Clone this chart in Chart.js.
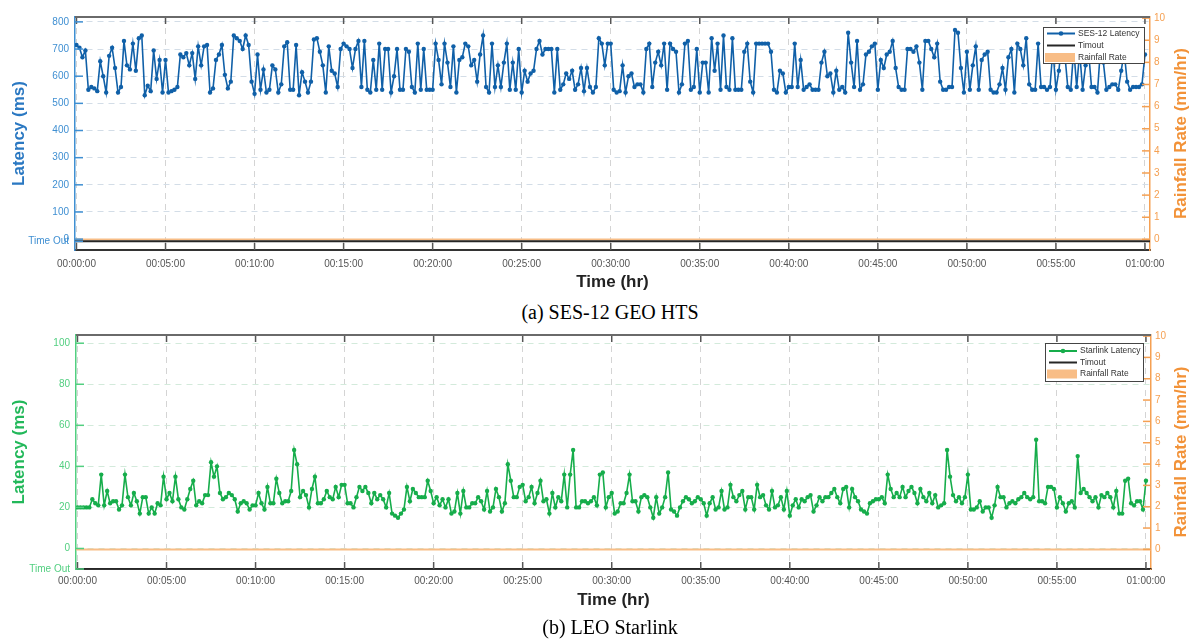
<!DOCTYPE html>
<html>
<head>
<meta charset="utf-8">
<script src="https://cdn.jsdelivr.net/npm/chart.js@4.4.0/dist/chart.umd.min.js"></script>
<style>
body { margin:0; background:#fff; width:1189px; height:639px; position:relative; overflow:hidden; }
canvas { position:absolute; left:0; }
#c1 { top:0; }
#c2 { top:318px; }
.cap { position:absolute; left:310px; width:600px; text-align:center; line-height:23px;
       font-family:"Liberation Serif","Times New Roman",serif; font-size:20px; color:#000; }
</style>
</head>
<body>
<canvas id="c1" width="1189" height="300"></canvas>
<div class="cap" style="top:301px">(a) SES-12 GEO HTS</div>
<canvas id="c2" width="1189" height="300"></canvas>
<div class="cap" style="top:616px">(b) LEO Starlink</div>
<script>
// samples every 10 s over one hour
const timeStep = 10;
const xMin = -5, xMax = 3617;
const xTicks = [0, 300, 600, 900, 1200, 1500, 1800, 2100, 2400, 2700, 3000, 3300, 3600];

const sesLatency = [
  715,705,670,695,550,560,555,545,655,600,540,675,705,630,540,560,730,640,625,720,
  620,740,750,530,565,545,695,590,660,540,660,540,545,550,560,680,670,685,640,685,
  590,710,640,710,715,540,555,660,680,715,605,555,580,750,740,730,700,750,715,580,
  535,680,550,625,540,550,640,625,540,570,710,725,550,550,715,530,615,580,540,580,
  735,740,690,640,
  540,710,620,610,560,700,720,710,700,630,700,730,560,730,550,540,660,550,720,550,
  700,700,540,600,700,550,550,700,690,560,540,720,550,700,550,550,550,720,660,570,
  720,650,560,710,540,660,670,720,710,640,660,580,680,750,560,540,720,560,640,560,
  650,720,550,650,550,700,540,620,580,610,620,700,730,680,700,700,700,540,700,550,
  570,610,590,620,550,570,630,545,630,
  560,540,560,740,720,640,720,720,550,540,545,640,540,600,610,560,570,570,540,700,
  720,560,650,690,640,720,550,720,700,690,540,570,720,730,550,560,700,540,650,650,
  540,740,620,720,550,750,560,550,740,550,550,550,690,720,580,540,720,720,720,720,
  720,690,550,540,620,610,540,560,560,720,560,660,550,560,570,550,550,550,650,690,
  600,610,540,620,550,560,540,760,650,
  560,730,550,570,680,690,710,720,550,660,630,680,690,730,630,560,550,550,700,700,
  690,710,650,550,730,730,700,670,720,580,550,550,560,560,770,760,630,540,690,550,
  640,710,550,660,680,690,550,540,540,570,630,550,670,700,540,720,700,640,740,570,
  550,550,
  720,560,560,550,560,700,550,620,730,680,560,550,700,560,690,550,640,690,560,560,
  540,700,650,550,560,570,570,550,620,690,580,550,560,560,560,570,680
];

const starlinkLatency = [
  20,20,20,20,20,24,22,21,36,21,28,22,23,23,19,21,36,25,21,27,
  23,17,25,25,17,20,17,22,21,35,24,27,23,35,24,20,19,24,29,33,
  21,23,22,26,26,42,35,40,27,24,25,27,26,24,18,22,23,22,19,21,
  21,27,22,19,30,22,22,34,27,22,23,23,28,48,41,25,28,26,20,29,
  35,22,22,24,28,
  25,24,30,25,31,31,22,22,20,25,30,28,30,27,22,27,24,26,24,20,
  27,17,16,15,17,19,30,23,29,27,25,25,25,33,28,22,25,21,24,20,
  24,17,18,27,17,28,20,20,22,22,25,23,19,28,18,20,29,25,18,22,
  41,33,25,25,30,31,23,25,30,22,27,33,23,24,17,27,20,25,23,36,
  20,36,48,20,20,23,23,
  22,23,25,21,36,37,20,25,27,17,18,22,22,27,36,23,23,18,25,26,
  25,20,15,25,17,20,25,37,19,18,16,20,23,25,24,22,23,25,24,22,
  16,22,25,19,20,28,19,20,31,25,23,26,28,19,25,25,19,31,25,26,
  21,19,28,20,21,25,19,28,16,21,24,20,24,23,25,26,18,21,25,23,
  25,25,27,29,25,22,29,30,20,
  29,25,23,19,18,17,22,23,24,24,25,22,36,29,25,27,25,30,25,28,
  30,27,22,29,25,23,27,22,26,20,21,22,48,35,26,23,25,22,25,36,
  19,19,20,23,18,20,20,15,21,30,25,25,20,22,23,22,24,25,27,25,
  24,25,53,23,23,22,30,30,29,20,25,22,18,22,23,20,45,27,29,27,
  25,23,25,20,26,25,27,25,20,28,17,17,33,34,22,21,23,23,19,33
];

// no rain during either hour
const rainTimes = [xMin, xMax];
const rainfall = [0, 0];

const sesTimeout = -8;
const starTimeout = -10;
const sesTicks = [-8, 0, 100, 200, 300, 400, 500, 600, 700, 800];
const starTicks = [-10, 0, 20, 40, 60, 80, 100];
const rainTicks = [0, 1, 2, 3, 4, 5, 6, 7, 8, 9, 10];

const FONT = "'Liberation Sans', Arial, Helvetica, sans-serif";
Chart.defaults.font.family = FONT;
const ORANGE = '#f5a052';

function fmtTime(v) {
  const h = Math.floor(v / 3600), m = Math.floor((v % 3600) / 60), s = v % 60;
  const p = n => String(n).padStart(2, '0');
  return p(h) + ':' + p(m) + ':' + p(s);
}

const framePlugin = {
  id: 'frame',
  afterDatasetsDraw(chart, args, o) {
    const { ctx, chartArea: a, scales } = chart;
    const line = (x1, y1, x2, y2) => { ctx.beginPath(); ctx.moveTo(x1, y1); ctx.lineTo(x2, y2); ctx.stroke(); };
    ctx.save();
    // inward tick marks
    ctx.lineWidth = 1.5;
    ctx.strokeStyle = '#555';
    xTicks.forEach(t => {
      const px = scales.x.getPixelForValue(t);
      line(px, a.top, px, a.top + 7);
      line(px, a.bottom, px, a.bottom - 7);
    });
    ctx.strokeStyle = o.leftColor;
    scales.y.ticks.forEach(t => {
      const py = scales.y.getPixelForValue(t.value);
      line(a.left, py, a.left + 8, py);
    });
    ctx.strokeStyle = ORANGE;
    scales.y1.ticks.forEach(t => {
      const py = scales.y1.getPixelForValue(t.value);
      line(a.right - 8, py, a.right, py);
    });
    // top of the box
    ctx.strokeStyle = '#6a6a6a';
    ctx.lineWidth = 2;
    line(a.left, a.top, a.right, a.top);

    // right axis title, reading upward
    ctx.save();
    ctx.translate(1181, (a.top + a.bottom) / 2);
    ctx.rotate(-Math.PI / 2);
    ctx.font = 'bold 17px ' + FONT;
    ctx.fillStyle = '#f29238';
    ctx.textAlign = 'center';
    ctx.textBaseline = 'middle';
    ctx.fillText('Rainfall Rate (mm/hr)', 0, 0);
    ctx.restore();

    // legend box in the top right corner
    const lx = a.right - o.legRight - o.legW, ly = a.top + o.legTop;
    ctx.fillStyle = '#fff';
    ctx.fillRect(lx, ly, o.legW, o.legH);
    ctx.strokeStyle = '#444';
    ctx.lineWidth = 1;
    ctx.strokeRect(lx + 0.5, ly + 0.5, o.legW, o.legH);
    ctx.font = '8.5px ' + FONT;
    ctx.textBaseline = 'middle';
    ctx.textAlign = 'left';
    chart.data.datasets.forEach((ds, i) => {
      const yy = ly + o.rowY + i * o.rowH;
      const x0 = lx + 4, x1 = lx + 32;
      if (ds.legendKind === 'rect') {
        ctx.fillStyle = ds.borderColor;
        ctx.fillRect(x0 - 2, yy - 4.5, x1 - x0 + 2, 9);
      } else {
        ctx.strokeStyle = ds.borderColor;
        ctx.lineWidth = 2;
        line(x0, yy, x1, yy);
        if (ds.legendKind === 'marker') {
          ctx.fillStyle = ds.borderColor;
          ctx.beginPath();
          ctx.arc((x0 + x1) / 2, yy, 2.3, 0, Math.PI * 2);
          ctx.fill();
        }
      }
      ctx.fillStyle = '#333';
      ctx.fillText(ds.label, lx + 35, yy);
    });
    ctx.restore();
  }
};

function makeChart(id, cfg) {
  const pts = cfg.latency.map((v, i) => ({ x: i * timeStep, y: v }));
  return new Chart(document.getElementById(id), {
    type: 'line',
    data: {
      datasets: [
        {
          label: cfg.label, legendKind: 'marker', data: pts, yAxisID: 'y',
          borderColor: cfg.lineColor, backgroundColor: cfg.lineColor,
          borderWidth: 1.6, pointRadius: 2.2, pointBorderWidth: 0,
          pointBackgroundColor: cfg.lineColor, tension: 0
        },
        {
          label: 'Timout', legendKind: 'line', yAxisID: 'y',
          data: [{ x: xMin, y: cfg.timeout }, { x: xMax, y: cfg.timeout }],
          borderColor: '#262626', borderWidth: 2, pointRadius: 0
        },
        {
          label: 'Rainfall Rate', legendKind: 'rect', yAxisID: 'y1',
          data: rainTimes.map((t, i) => ({ x: t, y: rainfall[i] })),
          borderColor: '#f8bd86', backgroundColor: '#f8bd86', borderWidth: 2, pointRadius: 0
        }
      ]
    },
    options: {
      responsive: false,
      animation: false,
      devicePixelRatio: 1,
      layout: { padding: { top: 17, left: 0, right: 0, bottom: 0 } },
      plugins: {
        legend: { display: false },
        tooltip: { enabled: false },
        frame: cfg.frame
      },
      scales: {
        x: {
          type: 'linear', min: xMin, max: xMax,
          afterBuildTicks: s => { s.ticks = xTicks.map(v => ({ value: v })); },
          afterFit: s => { s.height = cfg.xHeight; },
          ticks: { color: '#555', font: { size: 10 }, padding: cfg.xPad, autoSkip: false, maxRotation: 0, callback: v => fmtTime(v) },
          grid: { color: '#d4d4d4', drawTicks: false },
          border: { color: '#333', width: 2, dash: [6, 5] },
          title: { display: true, text: 'Time (hr)', color: '#222', font: { size: 17, weight: 'bold' }, padding: { top: 0, bottom: 7 } }
        },
        y: {
          position: 'left', min: cfg.yMin, max: cfg.yMax,
          afterBuildTicks: s => { s.ticks = cfg.yTicks.map(v => ({ value: v })); },
          afterFit: s => { s.width = cfg.leftW; },
          ticks: { color: cfg.tickColor, font: { size: 10 }, padding: 6, autoSkip: false,
                   callback: v => v === cfg.timeout ? 'Time Out' : v },
          grid: { color: cfg.gridColor, drawTicks: false },
          border: { color: cfg.tickColor, width: 1.5, dash: [6, 5] },
          title: { display: true, text: 'Latency (ms)', color: cfg.titleColor, font: { size: 17, weight: 'bold' }, padding: { top: 9 } }
        },
        y1: {
          position: 'right', min: cfg.rMin, max: 10.05,
          afterBuildTicks: s => { s.ticks = rainTicks.map(v => ({ value: v })); },
          afterFit: s => { s.width = cfg.rightW; },
          ticks: { color: ORANGE, font: { size: 10 }, padding: 4, autoSkip: false },
          grid: { drawOnChartArea: false, drawTicks: false },
          border: { color: ORANGE, width: 1.5 }
        }
      }
    },
    plugins: [framePlugin]
  });
}

makeChart('c1', {
  latency: sesLatency, label: 'SES-12 Latency', timeout: sesTimeout,
  lineColor: '#1060a8', tickColor: '#3f8fd2', titleColor: '#2a78c2', gridColor: '#d3dde7',
  yMin: -40, yMax: 818, yTicks: sesTicks, rMin: -0.48,
  leftW: 75, rightW: 39, xHeight: 50, xPad: 8,
  frame: { leftColor: '#3f8fd2', legW: 101, legH: 36, legRight: 6, legTop: 10, rowY: 6.5, rowH: 12 }
});

makeChart('c2', {
  latency: starlinkLatency, label: 'Starlink Latency', timeout: starTimeout,
  lineColor: '#16ad4b', tickColor: '#52cf80', titleColor: '#22b85a', gridColor: '#d3eadb',
  yMin: -10, yMax: 104, yTicks: starTicks, rMin: -0.92,
  leftW: 76, rightW: 38, xHeight: 49, xPad: 6,
  frame: { leftColor: '#52cf80', legW: 98, legH: 38, legRight: 8, legTop: 8, rowY: 8, rowH: 11.5 }
});
</script>
</body>
</html>
